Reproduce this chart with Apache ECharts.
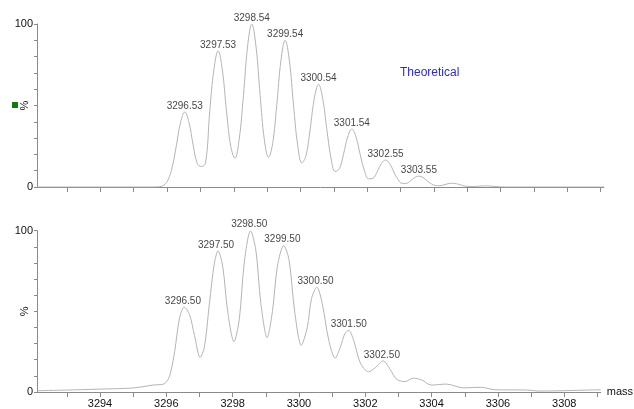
<!DOCTYPE html>
<html>
<head>
<meta charset="utf-8">
<script src="https://cdn.jsdelivr.net/npm/echarts@6/dist/echarts.min.js"></script>
<style>
html,body{margin:0;padding:0;background:#fff;}
#c{width:634px;height:409px;}
</style>
</head>
<body>
<div id="c"></div>
<script>
// Theoretical isotope envelope (top panel)
var theoMass = [3292.1, 3295.5, 3295.78, 3295.905, 3296.03, 3296.155, 3296.28, 3296.405, 3296.53,
  3296.655, 3296.78, 3296.905, 3297.03, 3297.155, 3297.28, 3297.405, 3297.53,
  3297.655, 3297.78, 3297.91, 3298.035, 3298.16, 3298.29, 3298.415, 3298.54,
  3298.665, 3298.79, 3298.915, 3299.04, 3299.165, 3299.29, 3299.415, 3299.54,
  3299.665, 3299.79, 3299.915, 3300.04, 3300.165, 3300.29, 3300.415, 3300.54,
  3300.665, 3300.79, 3300.915, 3301.04, 3301.165, 3301.29, 3301.415, 3301.54,
  3301.665, 3301.79, 3301.92, 3302.045, 3302.17, 3302.3, 3302.425, 3302.55,
  3302.675, 3302.8, 3302.925, 3303.05, 3303.175, 3303.3, 3303.425, 3303.55,
  3303.675, 3303.8, 3303.925, 3304.05, 3304.175, 3304.3, 3304.425, 3304.55,
  3304.675, 3304.8, 3304.925, 3305.05, 3305.175, 3305.3, 3305.425, 3305.55,
  3305.675, 3305.8, 3305.925, 3306.05, 3306.3, 3309.1];
var theoIntensity = [0, 0, 0.23, 1.2, 4.4, 12.3, 25.6, 39.7, 46,
  39.7, 26.0, 14.5, 12.5, 14.9, 46.7, 72.1, 83.5,
  72.1, 47.0, 25.0, 17.7, 29.0, 56.1, 86.4, 100,
  86.4, 56.2, 29.2, 18.3, 26.7, 50.6, 77.8, 90,
  77.8, 50.4, 25.8, 14.8, 19.2, 35.5, 54.4, 63,
  54.4, 35.3, 17.8, 9.5, 11.2, 20.1, 30.7, 35.5,
  30.7, 19.9, 9.9, 5.0, 5.3, 9.4, 14.3, 16.5,
  14.3, 9.2, 4.6, 2.2, 2.2, 3.8, 5.8, 6.7,
  5.8, 3.8, 1.9, 0.9, 0.8, 1.3, 2.0, 2.3,
  2.0, 1.3, 0.6, 0.3, 0.25, 0.4, 0.6, 0.7,
  0.6, 0.4, 0.2, 0.07, 0, 0];

var measMass = [3292.1, 3293.0, 3294.0, 3295.0, 3295.6, 3295.94, 3296.1, 3296.25, 3296.4, 3296.54, 3296.7, 3296.85, 3297.02, 3297.15, 3297.3, 3297.45, 3297.56, 3297.7, 3297.85, 3298.04, 3298.2, 3298.35, 3298.54, 3298.7, 3298.85, 3299.04, 3299.2, 3299.35, 3299.54, 3299.7, 3299.87, 3300.07, 3300.25, 3300.38, 3300.54, 3300.7, 3300.9, 3301.09, 3301.25, 3301.38, 3301.5, 3301.65, 3301.85, 3302.1, 3302.3, 3302.54, 3302.75, 3302.94, 3303.19, 3303.45, 3303.7, 3303.99, 3304.45, 3304.95, 3305.5, 3305.9, 3306.9, 3307.2, 3308.0, 3308.7, 3309.1];
var measIntensity = [0.8, 1.2, 1.8, 2.5, 4.3, 5.1, 10, 25, 46, 52.6, 48, 35, 21.4, 28, 55, 80, 87.5, 78, 50, 31.2, 45, 80, 100, 88, 55, 33.7, 50, 78, 90.8, 82, 50, 29, 40, 58, 65, 55, 32, 21, 28, 36, 38.2, 32, 18, 12.5, 15, 19.3, 14, 8, 6.4, 8.6, 7.5, 4.3, 4.9, 2.6, 2.9, 1.4, 1.2, 0.6, 0.8, 1.2, 1.4];

// Peak annotations
var theoPeakMass = [3296.53, 3297.53, 3298.54, 3299.54, 3300.54, 3301.54, 3302.55, 3303.55];
var theoPeakIntensity = [46, 83.5, 100, 90, 63, 35.5, 16.5, 6.7];
var measPeakMass = [3296.50, 3297.50, 3298.50, 3299.50, 3300.50, 3301.50, 3302.50];
var measPeakIntensity = [52.6, 87.5, 100, 90.8, 65, 38.2, 19.3];

// Axis ticks
var xTickValues = [3293, 3294, 3295, 3296, 3297, 3298, 3299, 3300, 3301, 3302, 3303, 3304, 3305, 3306, 3307, 3308, 3309];
var xLabelValues = [3294, 3296, 3298, 3300, 3302, 3304, 3306, 3308];
var yLabelValues = [0, 100];

var FONT = 'Liberation Sans, Arial, sans-serif';
var AXIS_COLOR = '#8a8a8a';
var CURVE_COLOR = '#b4b4b4';
var TEXT_COLOR = '#111';

function zip(a, b) { return a.map(function (v, i) { return [v, b[i]]; }); }

function xAxisCfg(idx, showLabels) {
  return {
    type: 'value', gridIndex: idx, min: 3292.1, max: 3309.1,
    splitLine: { show: false },
    axisLine: { show: true, lineStyle: { color: AXIS_COLOR, width: 1 } },
    axisTick: { show: true, length: 5, customValues: xTickValues, lineStyle: { color: AXIS_COLOR } },
    axisLabel: { show: showLabels, customValues: xLabelValues, margin: 6, color: TEXT_COLOR, fontSize: 11, fontFamily: FONT,
      formatter: function (v) { return String(v); } },
    name: showLabels ? 'mass' : '', nameLocation: 'end', nameGap: 6,
    nameTextStyle: { color: TEXT_COLOR, fontSize: 11, fontFamily: FONT }
  };
}
function yAxisCfg(idx) {
  return {
    type: 'value', gridIndex: idx, min: 0, max: 100, interval: 10,
    splitLine: { show: false },
    axisLine: { show: true, lineStyle: { color: AXIS_COLOR, width: 1 } },
    axisTick: { show: true, length: 3, lineStyle: { color: AXIS_COLOR } },
    axisLabel: { customValues: yLabelValues, margin: 4, color: TEXT_COLOR, fontSize: 11, fontFamily: FONT },
    name: '%', nameLocation: 'middle', nameGap: 7, nameMoveOverlap: false,
    nameTextStyle: { color: TEXT_COLOR, fontSize: 11, fontFamily: FONT }
  };
}
function labelSeries(idx, masses, ints) {
  return {
    type: 'scatter', xAxisIndex: idx, yAxisIndex: idx, symbolSize: 0, silent: true,
    data: zip(masses, ints),
    label: {
      show: true, position: 'top', distance: 1, color: TEXT_COLOR, fontSize: 10, fontFamily: FONT,
      formatter: function (p) { return p.value[0].toFixed(2); }
    }
  };
}

var chart = echarts.init(document.getElementById('c'), null, { renderer: 'canvas' });
chart.setOption({
  animation: false,
  backgroundColor: '#fff',
  grid: [
    { left: 37, top: 24, width: 567, height: 163 },
    { left: 37, top: 230.7, width: 567, height: 162.3 }
  ],
  xAxis: [xAxisCfg(0, false), xAxisCfg(1, true)],
  yAxis: [yAxisCfg(0), yAxisCfg(1)],
  graphic: [
    { type: 'rect', left: 12, top: 102, shape: { width: 6, height: 6 }, style: { fill: '#0b7d0b' } },
    { type: 'text', left: 400, top: 67, style: { text: 'Theoretical', fill: '#2b2bd6', font: '12px Liberation Sans, Arial, sans-serif' } }
  ],
  series: [
    {
      type: 'line', xAxisIndex: 0, yAxisIndex: 0, data: zip(theoMass, theoIntensity),
      smooth: 0.4, showSymbol: false, symbol: 'none',
      lineStyle: { color: CURVE_COLOR, width: 1 }
    },
    {
      type: 'line', xAxisIndex: 1, yAxisIndex: 1, data: zip(measMass, measIntensity),
      smooth: 0.3, showSymbol: false, symbol: 'none',
      lineStyle: { color: CURVE_COLOR, width: 1 }
    },
    labelSeries(0, theoPeakMass, theoPeakIntensity),
    labelSeries(1, measPeakMass, measPeakIntensity)
  ]
});
</script>
</body>
</html>
